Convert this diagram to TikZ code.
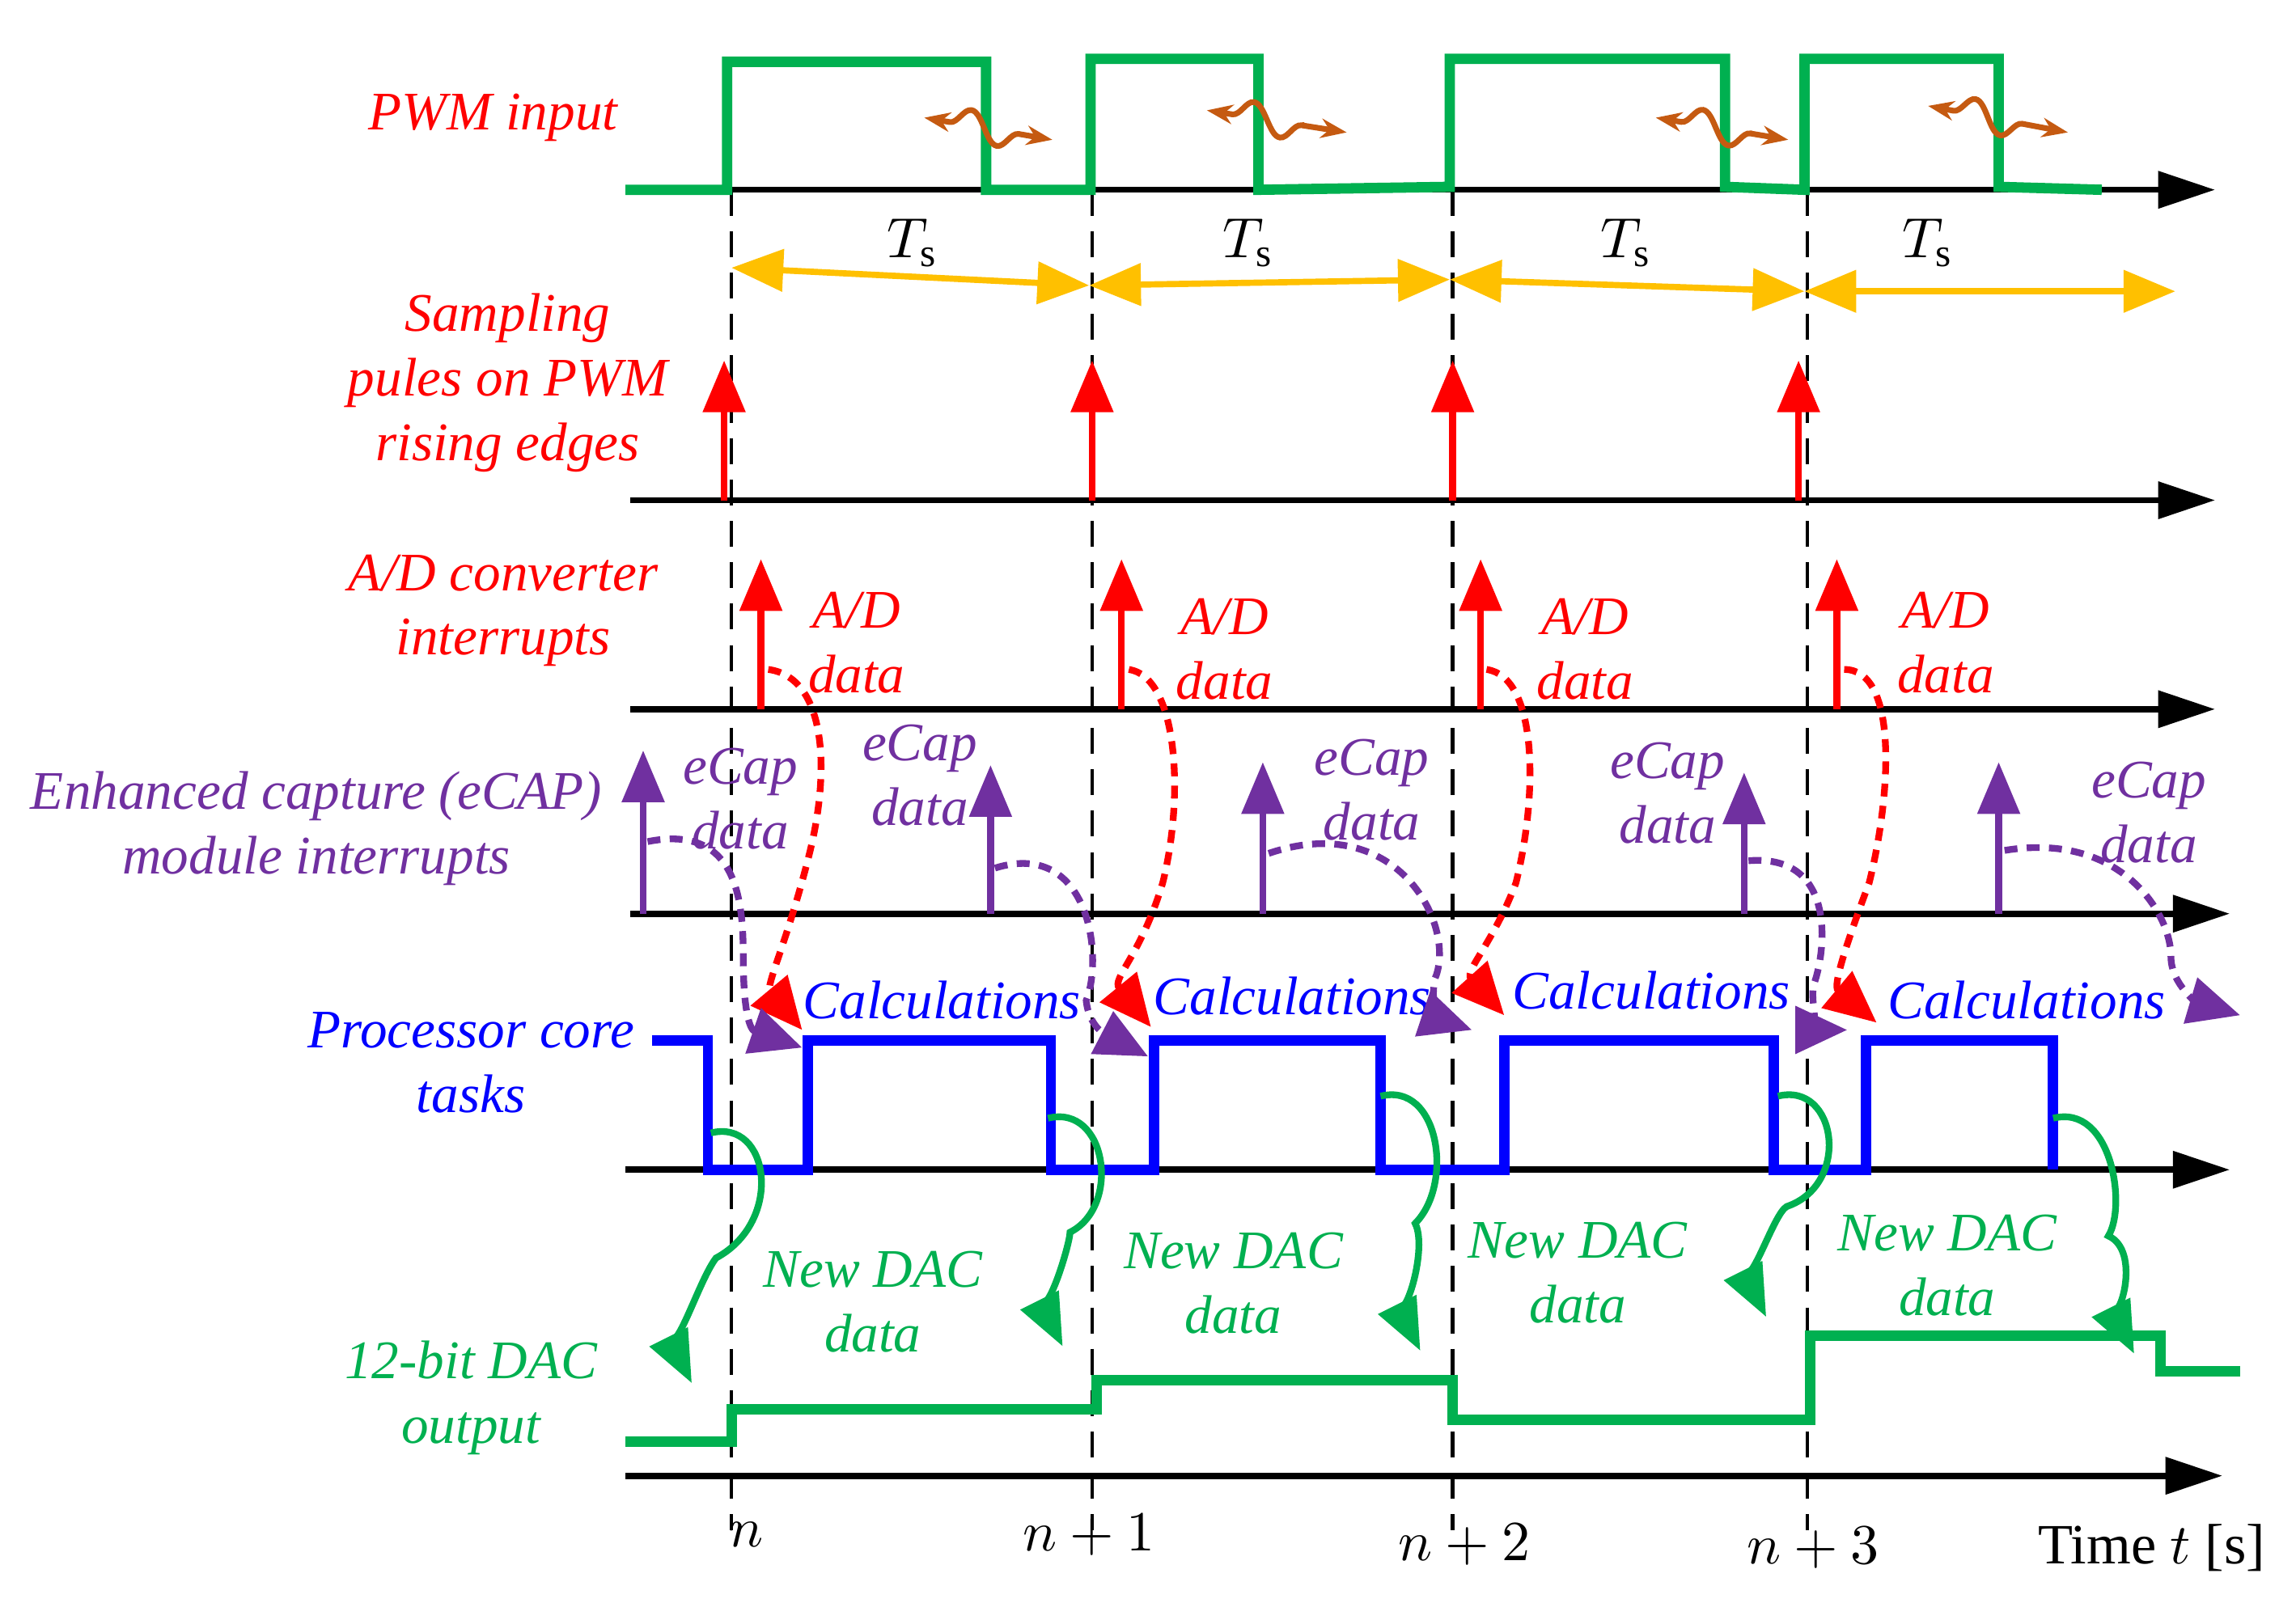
\documentclass[tikz,border=0pt]{standalone}
\usepackage{fontspec}
\setmainfont{Liberation Serif}
\usetikzlibrary{arrows.meta,decorations.pathmorphing}
\definecolor{gr}{RGB}{0,176,80}
\definecolor{org}{RGB}{255,192,0}
\definecolor{pur}{RGB}{112,48,160}
\definecolor{brn}{RGB}{197,90,17}
\begin{document}
\begin{tikzpicture}[x=0.01cm,y=-0.01cm,
 axis/.style={line width=1.2pt,-{Triangle[length=11pt,width=7pt]}},
 lab/.style={font=\itshape\fontsize{10.5}{12.5}\selectfont,align=center},
 vd/.style={line width=0.7pt,dash pattern=on 5pt off 3pt},
 sig/.style={line width=2pt},
 upar/.style={line width=1.3pt,-{Triangle[length=10pt,width=8pt]}},
 ts/.style={org,line width=1.2pt,{Triangle[length=10pt,width=8pt]}-{Triangle[length=10pt,width=8pt]}},
 wav/.style={brn,line width=1.1pt,{Stealth[length=5pt]}-{Stealth[length=5pt]},decorate,decoration={snake,amplitude=3pt,segment length=12pt,pre length=5pt,post length=5pt}},
 dot/.style={line width=1.3pt,dash pattern=on 2.5pt off 1.8pt,-{Triangle[length=10pt,width=9pt]}},
 garr/.style={gr,line width=1.3pt,-{Triangle[length=10pt,width=8pt]}},
 num/.style={font=\fontsize{11}{13}\selectfont}]
\useasboundingbox (0,0) rectangle (1560,1089);
% axes
\foreach \n/\y/\a/\b in {a1/129/425/1505,a2/340/428/1505,a3/482/428/1505,a4/621/428/1515,a5/795/425/1515,a6/1003/425/1510}{
 \coordinate (\n s) at (\a,\y); \coordinate (\n e) at (\b,\y);
 \draw[axis] (\n s) -- (\n e);}
% dashed verticals
\foreach \i/\x in {0/497,1/742,2/987,3/1228}{
 \coordinate (vt\i) at (\x,129); \coordinate (vb\i) at (\x,1040);
 \draw[vd] (vt\i) -- (vb\i);}
% PWM
\draw[gr,sig] (425,129)--(494,129)--(494,42)--(670,42)--(670,129)--(741,129)--(741,40)--(855,40)--(855,129)--(985,127)--(985,40)--(1172,40)--(1172,127)--(1226,129)--(1226,40)--(1358,40)--(1358,127)--(1428,129);
\foreach \a/\b/\c/\d in {628/80/715/95,820/75/915/90,1125/80/1215/95,1310/72/1405/90}
 \draw[wav] (\a,\b) -- (\c,\d);
% Ts
\foreach \x/\l in {620/1,848/2,1105/3,1310/4} \node[num] (ts\l) at (\x,165) {$T_{\mathrm s}$};
\coordinate (o1) at (497,182); \coordinate (o2) at (740,194); \coordinate (o3) at (985,190);
\coordinate (o4) at (1226,198); \coordinate (o5) at (1478,198);
\draw[ts] (o1)--(o2); \draw[ts] (o2)--(o3); \draw[ts] (o3)--(o4); \draw[ts] (o4)--(o5);
% sampling
\foreach \x in {492,742,987,1222} \draw[red,upar] (\x,340)--(\x,245);
% A/D
\foreach \x/\lx/\ly/\i in {517/582/437/1,762/832/441/2,1006/1077/441/3,1248/1322/437/4}{
 \draw[red,upar] (\x,482)--(\x,380);
 \node[lab,red] (ad\i) at (\lx,\ly) {A/D\\data};}
% eCAP
\foreach \x/\t in {437/510,673/520,858/518,1185/525,1358/518} \draw[pur,upar] (\x,621)--(\x,\t);
\foreach \x/\y/\i in {503/543/1,625/527/2,932/537/3,1133/539/4,1460/552/5}
 \node[lab,pur] (ec\i) at (\x,\y) {eCap\\data};
% processor
\draw[blue,sig] (443,707)--(481,707)--(481,795)--(549,795)--(549,707)--(714,707)--(714,795)--(784,795)--(784,707)--(938,707)--(938,795)--(1022,795)--(1022,707)--(1205,707)--(1205,795)--(1268,795)--(1268,707)--(1395,707)--(1395,795);
\foreach \x/\y/\i in {640/680/1,878/677/2,1122/673/3,1377/680/4}
 \node[lab,blue] (cal\i) at (\x,\y) {Calculations};
% dotted red
\draw[red,dot] (522,455) .. controls (560,460) and (565,520) .. (550,580) .. controls (535,640) and (520,670) .. (545,700);
\draw[red,dot] (767,455) .. controls (800,460) and (805,540) .. (790,600) .. controls (775,650) and (755,665) .. (782,698);
\draw[red,dot] (1010,455) .. controls (1045,460) and (1045,540) .. (1030,600) .. controls (1015,640) and (995,660) .. (1022,690);
\draw[red,dot] (1253,455) .. controls (1290,455) and (1285,540) .. (1270,600) .. controls (1255,640) and (1245,670) .. (1275,695);
% dotted purple
\draw[pur,dot] (440,572) .. controls (500,560) and (505,610) .. (505,650) .. controls (505,690) and (510,700) .. (545,712);
\draw[pur,dot] (676,590) .. controls (740,570) and (750,650) .. (738,680) .. controls (740,700) and (755,705) .. (780,718);
\draw[pur,dot] (862,580) .. controls (950,550) and (990,630) .. (975,665) .. controls (970,690) and (985,695) .. (1000,700);
\draw[pur,dot] (1188,585) .. controls (1250,580) and (1240,650) .. (1232,670) .. controls (1230,690) and (1240,700) .. (1255,700);
\draw[pur,dot] (1362,578) .. controls (1440,565) and (1475,620) .. (1475,650) .. controls (1475,670) and (1495,682) .. (1522,690);
% DAC
\draw[gr,sig] (425,980)--(497,980)--(497,958)--(745,958)--(745,938)--(987,938)--(987,965)--(1230,965)--(1230,908)--(1468,908)--(1468,932)--(1522,932);
\foreach \a/\b/\c/\d in {483/770/470/940,712/760/722/915,938/745/965/918,1208/745/1200/895,1395/760/1450/920}
 \draw[garr] (\a,\b) .. controls (\a+40,\b-10) and (\a+50,\b+60) .. (\a/2+\c/2+10,\b/2+\d/2) .. controls (\c+5,\d-70) and (\c-10,\d-20) .. (\c,\d);
\foreach \x/\y/\i in {593/885/1,838/872/2,1072/865/3,1323/860/4}
 \node[lab,gr] (nd\i) at (\x,\y) {New DAC\\data};
% left labels
\node[lab,red] (l1) at (335,80) {PWM input};
\node[lab,red] (l2) at (345,260) {Sampling\\pules on PWM\\rising edges};
\node[lab,red] (l3) at (342,415) {A/D converter\\interrupts};
\node[lab,pur] (l4) at (215,563) {Enhanced capture (eCAP)\\module interrupts};
\node[lab,blue] (l5) at (320,722) {Processor core\\tasks};
\node[lab,gr] (l6) at (320,950) {12-bit DAC\\output};
% bottom
\node[num] (b0) at (507,1043) {$n$};
\node[num] (b1) at (740,1043) {$n+1$};
\node[num] (b2) at (995,1050) {$n+2$};
\node[num] (b3) at (1232,1052) {$n+3$};
\node[num] (bt) at (1462,1052) {Time $t$ [s]};
\end{tikzpicture}
\end{document}
